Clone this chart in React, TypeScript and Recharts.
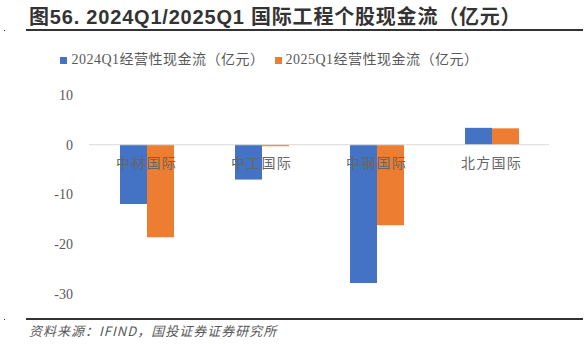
import { BarChart, Bar, XAxis, YAxis, Legend, ReferenceLine, ReferenceDot } from 'recharts';

const companies = ['中材国际', '中工国际', '中钢国际', '北方国际'];
const cf2024 = [-11.9, -7.0, -27.8, 3.4];
const cf2025 = [-18.6, -0.3, -16.2, 3.3];
const yTicks = [-30, -20, -10, 0, 10];

const S2024 = '2024Q1经营性现金流（亿元）';
const S2025 = '2025Q1经营性现金流（亿元）';

const data = companies.map((name, i) => ({ name, [S2024]: cf2024[i], [S2025]: cf2025[i] }));

const SERIF = "'Liberation Serif', 'Noto Sans CJK SC', serif";
const GREY = '#595959';

export default function App() {
  return (
    <div style={{ position: 'absolute', left: 0, top: 0, width: 587, height: 344, background: '#fff', overflow: 'hidden' }}>
      <BarChart
        width={587}
        height={344}
        data={data}
        margin={{ top: 75, right: 38, bottom: 50, left: 0 }}
        barGap={0}
        barSize={27}
      >
        <XAxis dataKey="name" hide />
        <YAxis
          width={89}
          domain={[-30, 10]}
          ticks={yTicks}
          axisLine={false}
          tickLine={false}
          tick={{ fill: GREY, fontSize: 14, fontFamily: SERIF }}
          dx={-8}
        />
        <Legend
          verticalAlign="top"
          align="center"
          iconType="square"
          iconSize={7}
          wrapperStyle={{ top: 48, fontFamily: SERIF, fontSize: 14, letterSpacing: 0.5 }}
          formatter={(v: string) => <span style={{ color: GREY }}>{v}</span>}
        />
        <ReferenceLine y={0} stroke="#d9d9d9" strokeWidth={1} />
        <Bar dataKey={S2024} fill="#4472C4" isAnimationActive={false} />
        <Bar dataKey={S2025} fill="#ED7D31" isAnimationActive={false} />
        {companies.map(c => (
          <ReferenceDot
            key={c}
            x={c}
            y={0}
            r={0}
            stroke="none"
            fill="none"
            label={{ value: c, position: 'bottom', offset: 13, fill: '#666', fontSize: 14, fontFamily: SERIF, letterSpacing: 1.2 }}
          />
        ))}
      </BarChart>
      <div style={{ position: 'absolute', left: 29, top: 5, fontFamily: "'Liberation Sans', 'Noto Sans CJK SC', sans-serif", fontWeight: 'bold', fontSize: 20, letterSpacing: 0.8, color: '#333', whiteSpace: 'nowrap', lineHeight: '24px' }}>
        图56. 2024Q1/2025Q1 国际工程个股现金流（亿元）
      </div>
      <div style={{ position: 'absolute', left: 26, top: 29, width: 557, height: 2, background: '#333' }} />
      <div style={{ position: 'absolute', left: 26, top: 318, width: 557, height: 2, background: '#333' }} />
      <div style={{ position: 'absolute', left: 4, top: 30, width: 1, height: 1, background: '#333' }} />
      <div style={{ position: 'absolute', left: 4, top: 319, width: 1, height: 1, background: '#333' }} />
      <div style={{ position: 'absolute', left: 29, top: 322, fontFamily: "'Noto Sans CJK SC', sans-serif", fontStyle: 'italic', fontSize: 13, letterSpacing: 1, color: GREY, whiteSpace: 'nowrap', lineHeight: '18px' }}>
        资料来源：IFIND，国投证券证券研究所
      </div>
    </div>
  );
}
